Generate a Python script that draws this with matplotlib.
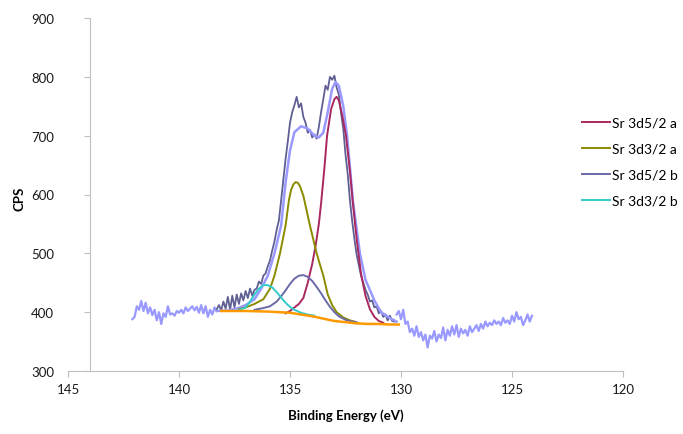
import matplotlib.pyplot as plt
import numpy as np

plt.rcParams['font.family'] = ['Lato', 'DejaVu Sans']

# survey data outside the fit window (light)
raw_left_e = np.round(np.arange(142.1, 138.25, -0.1), 1)
raw_left_c = [388, 392, 410, 404, 419, 402, 416, 398, 408, 395, 404, 386, 400, 380,
              398, 392, 410, 396, 398, 394, 402, 399, 404, 398, 408, 402, 406, 410,
              403, 409, 399, 412, 398, 410, 392, 404, 396, 408, 402]

raw_right_e = np.round(np.arange(130.2, 124.05, -0.1), 1)
raw_right_c = [396, 402, 388, 404, 380, 384, 366, 372, 360, 376, 358, 366, 352, 362,
               340, 360, 355, 368, 350, 362, 356, 374, 352, 370, 360, 376, 362, 378,
               358, 372, 364, 370, 360, 376, 366, 372, 378, 368, 380, 372, 384, 376,
               382, 378, 386, 380, 384, 378, 390, 382, 386, 380, 394, 384, 400, 388,
               392, 378, 386, 396, 384, 394]

# data inside the fit window (dark)
fit_e = np.round(np.arange(138.3, 130.25, -0.1), 1)
fit_c = [405, 412, 403, 418, 406, 426, 404, 428, 408, 430, 414, 432, 420, 436,
         424, 440, 428, 438, 440, 452, 448, 462, 466, 478, 488, 505, 520, 540,
         556, 590, 625, 660, 690, 722, 740, 752, 766, 748, 755, 732, 722, 705,
         710, 697, 702, 695, 715, 740, 762, 785, 778, 800, 795, 802, 782, 770,
         738, 712, 668, 635, 590, 555, 525, 498, 480, 462, 450, 438, 430, 418,
         420, 408, 410, 398, 402, 392, 396, 386, 394, 385, 384]

env_e = [138.3, 137.8, 137.4, 137.0, 136.6, 136.3, 136.0, 135.7, 135.4, 135.2, 135.0,
         134.8, 134.5, 134.2, 133.9, 133.7, 133.5, 133.3, 133.1, 132.95, 132.8, 132.6,
         132.43, 132.16, 131.85, 131.6, 131.2, 130.9, 130.5, 130.2]
env_c = [402, 403, 406, 412, 422, 440, 462, 500, 547, 620, 675, 706, 716, 712, 700,
         697, 705, 740, 780, 791, 785, 750, 700, 587, 500, 455, 420, 400, 390, 384]

bg_e = [138.1, 137.0, 136.0, 135.5, 135.0, 134.5, 134.0, 133.5, 133.0, 132.5, 132.0,
        131.5, 131.0, 130.5, 130.1]
bg_c = [402, 402, 401, 400, 399, 396, 393, 389, 385, 383, 381, 380, 380, 379, 379]

p1_e = [135.2, 135.0, 134.8, 134.6, 134.4, 134.2, 134.0, 133.85, 133.7, 133.6, 133.45,
        133.33, 133.15, 133.0, 132.9, 132.8, 132.65, 132.48, 132.3, 132.18, 132.0,
        131.8, 131.6, 131.4, 131.2, 131.0, 130.8]
p1_c = [398, 402, 408, 414, 424, 450, 482, 512, 550, 585, 645, 700, 745, 762, 766,
        760, 735, 700, 640, 590, 525, 465, 428, 405, 392, 385, 382]

p2_e = [137.3, 137.0, 136.6, 136.2, 135.9, 135.7, 135.45, 135.2, 135.05, 134.95,
        134.85, 134.75, 134.65, 134.55, 134.4, 134.1, 133.8, 133.5, 133.3, 133.1,
        132.9, 132.6, 132.3, 132.1]
p2_c = [405, 408, 414, 422, 440, 462, 500, 547, 590, 608, 617, 621, 620, 614, 598,
        547, 500, 462, 430, 412, 400, 391, 386, 384]

p3_e = [136.6, 136.2, 135.9, 135.6, 135.4, 135.2, 135.0, 134.8, 134.6, 134.4, 134.2,
        134.0, 133.8, 133.6, 133.4, 133.2, 133.0, 132.8, 132.5, 132.2, 132.0]
p3_c = [404, 407, 410, 418, 427, 437, 448, 457, 462, 463, 460, 453, 443, 432, 420,
        409, 400, 393, 387, 384, 383]

p4_e = [137.4, 137.0, 136.8, 136.6, 136.4, 136.2, 136.0, 135.8, 135.6, 135.4, 135.2,
        135.0, 134.8, 134.5, 134.2, 133.9]
p4_c = [402, 408, 418, 430, 440, 446, 446, 442, 434, 425, 416, 409, 404, 399, 396, 394]

fig = plt.figure(figsize=(6.83, 4.35), dpi=100)
ax = fig.add_axes([68 / 683, 63 / 435, 555 / 683, 353 / 435])

light = '#9999ff'
ax.plot(raw_left_e, raw_left_c, color=light, lw=1.6)
ax.plot(raw_right_e, raw_right_c, color=light, lw=1.6)
ax.plot(fit_e, fit_c, color='#5f5f94', lw=1.3)
ax.plot(env_e, env_c, color=light, lw=1.8)
l1, = ax.plot(p1_e, p1_c, color='#a8285f', lw=1.4, label='Sr 3d5/2 a')
l2, = ax.plot(p2_e, p2_c, color='#8b8b00', lw=1.4, label='Sr 3d3/2 a')
l3, = ax.plot(p3_e, p3_c, color='#6a6aa8', lw=1.4, label='Sr 3d5/2 b')
l4, = ax.plot(p4_e, p4_c, color='#33cccc', lw=1.4, label='Sr 3d3/2 b')
ax.plot(bg_e, bg_c, color='#ff9900', lw=1.8)

ax.set_xlim(145, 120)
ax.set_ylim(300, 900)
ax.set_xticks([145, 140, 135, 130, 125, 120])
ax.set_yticks([300, 400, 500, 600, 700, 800, 900])

for s in ['top', 'right']:
    ax.spines[s].set_visible(False)
ax.spines['left'].set_position(('data', 144))
for s in ['left', 'bottom']:
    ax.spines[s].set_color('#bfbfbf')
ax.tick_params(axis='both', colors='#bfbfbf', labelcolor='#1a1a1a', labelsize=9.5,
               length=4, direction='out')
ax.tick_params(axis='y', pad=22)
ax.tick_params(axis='x', pad=5)

ax.set_xlabel('Binding Energy (eV)', fontsize=9.5, fontweight='bold', labelpad=9)
ax.set_ylabel('CPS', fontsize=9.5, fontweight='bold')
ax.yaxis.set_label_coords((26 - 68) / 555, 0.49)

fig.legend(handles=[l1, l2, l3, l4], loc='upper left',
           bbox_to_anchor=(582 / 683, 1 - 118 / 435), frameon=False,
           fontsize=10, handlelength=2.0, handletextpad=0.15, labelspacing=1.0,
           borderpad=0, borderaxespad=0)

fig.savefig('out.png', dpi=100)
